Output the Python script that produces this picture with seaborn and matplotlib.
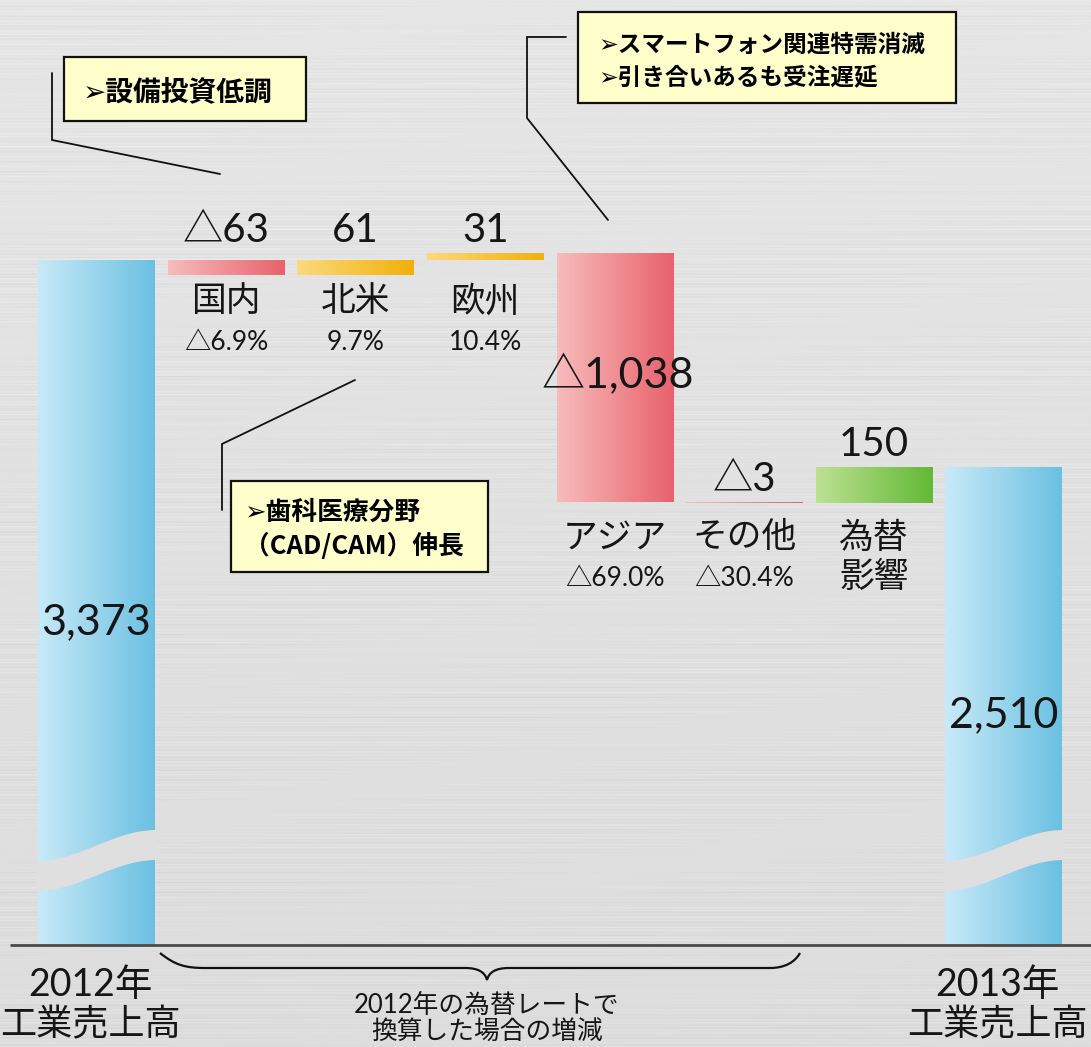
import numpy as np
import pandas as pd
import matplotlib
matplotlib.use("Agg")
import matplotlib.pyplot as plt
import seaborn as sns
from matplotlib.path import Path
from matplotlib.patches import PathPatch, Rectangle, Polygon
from matplotlib.colors import LinearSegmentedColormap

# ---------------- data ----------------
categories = ["2012年工業売上高", "国内", "北米", "欧州", "アジア", "その他", "為替影響", "2013年工業売上高"]
start_total = 3373
end_total = 2510
changes = [-63, 61, 31, -1038, -3, 150]
value_labels = ["3,373", "△63", "61", "31", "△1,038", "△3", "150", "2,510"]
bar_kinds = ["total", "neg", "pos", "pos", "neg", "neg", "fx", "total"]
region_names = ["国内", "北米", "欧州", "アジア", "その他", "為替\n影響"]
growth_labels = ["△6.9%", "9.7%", "10.4%", "△69.0%", "△30.4%", ""]
total_names = ["2012年\n工業売上高", "2013年\n工業売上高"]
brace_text = ["2012年の為替レートで", "換算した場合の増減"]
note_domestic = ["➢設備投資低調"]
note_asia = ["➢スマートフォン関連特需消滅", "➢引き合いあるも受注遅延"]
note_na = ["➢歯科医療分野", "（CAD/CAM）伸長"]

# ---------------- style ----------------
sns.set_theme(style="white")
CJK = ['Noto Sans CJK JP', 'DejaVu Sans']
NUM = ['Lato', 'Noto Sans CJK JP', 'DejaVu Sans']
plt.rcParams['font.family'] = CJK
TXT = '#161616'

grad_colors = {
    "total": ['#c8eaf8', '#6bc0e2'],
    "neg":   ['#f7bcbc', '#e8626b'],
    "pos":   ['#fdd97f', '#f1b00a'],
    "fx":    ['#bde192', '#62b936'],
}
cmaps = {k: LinearSegmentedColormap.from_list(k, v) for k, v in grad_colors.items()}

W, H = 1091, 1047
fig = plt.figure(figsize=(W / 100, H / 100), dpi=100)
ax = fig.add_axes([0, 0, 1, 1])

# layout mapping (pixels -> data)
SLOT, X0 = 129.6, 96.5
V_AT_TOP, PX_PER_UNIT = 4455.0, 0.24
def px2x(px):
    return (np.asarray(px, dtype=float) - X0) / SLOT
def px2v(py):
    return V_AT_TOP - np.asarray(py, dtype=float) / PX_PER_UNIT
def v2px(v):
    return (V_AT_TOP - v) * PX_PER_UNIT
XL = (float(px2x(0)), float(px2x(W)))
YL = (float(px2v(H)), float(px2v(0)))
FLOOR = float(px2v(945))

# waterfall geometry from data
bottoms, tops = [FLOOR], [start_total]
run = start_total
for c in changes:
    nxt = run + c
    bottoms.append(min(run, nxt)); tops.append(max(run, nxt))
    run = nxt
bottoms.append(FLOOR); tops.append(end_total)

df = pd.DataFrame({"category": categories, "top": tops, "bottom": bottoms, "kind": bar_kinds})

# background (brushed metal look)
rows = np.arange(H)
cols = np.linspace(0, 1, 300)
base = 0.90 - 0.035 * (rows / H)
streak = 0.016 * np.sin(rows * 1.9) + 0.010 * np.sin(rows * 0.61 + 0.7) + 0.007 * np.sin(rows * 3.7 + 2.1)
mod = 0.6 + 0.4 * np.sin(cols[None, :] * 9 + rows[:, None] * 0.05)
bg = base[:, None] + streak[:, None] * mod
ax.imshow(bg, cmap='gray', vmin=0, vmax=1, extent=(XL[0], XL[1], YL[0], YL[1]),
          aspect='auto', origin='upper', zorder=0, interpolation='bilinear')

# bars via seaborn
sns.barplot(data=df, x="category", y="top", hue="category", order=categories,
            hue_order=categories, palette=['#888888'] * len(categories),
            width=0.9, legend=False, ax=ax, saturation=1)
bars = sorted([p for p in ax.patches if isinstance(p, Rectangle)], key=lambda p: p.get_x())[:len(categories)]
grad = np.linspace(0, 1, 256)[None, :]
for p, b, t, kind in zip(bars, df["bottom"], df["top"], df["kind"]):
    p.set_y(b); p.set_height(t - b)
    p.set_facecolor('none'); p.set_edgecolor('none'); p.set_zorder(2)
    x0, x1 = p.get_x(), p.get_x() + p.get_width()
    im = ax.imshow(grad, cmap=cmaps[kind], extent=(x0, x1, b, t), aspect='auto',
                   origin='lower', zorder=2.5, interpolation='bilinear')
    im.set_clip_path(p)

centers = [p.get_x() + p.get_width() / 2 for p in bars]

# axis-break waves on total bars
def wave(p, yl, yr, thick):
    xpl = X0 + p.get_x() * SLOT - 2
    xpr = X0 + (p.get_x() + p.get_width()) * SLOT + 2
    t = np.linspace(0, 1, 80)
    xs = xpl + (xpr - xpl) * t
    yc = yl + (yr - yl) * (0.5 - 0.5 * np.cos(np.pi * t))
    up, lo = yc - thick / 2, yc + thick / 2
    pts = np.column_stack([np.r_[px2x(xs), px2x(xs[::-1])], np.r_[px2v(up), px2v(lo[::-1])]])
    ax.add_patch(Polygon(pts, closed=True, facecolor='#dfdfdf', edgecolor='none', zorder=3))

for i, k in enumerate(bar_kinds):
    if k == "total":
        wave(bars[i], 876, 845, 30)

# baseline
ax.plot(px2x([10, W]), [FLOOR, FLOOR], color='#4a4a4a', lw=2.0, zorder=4, solid_capstyle='butt')

# value labels
group_top = max(tops[1:4])
for i in range(1, len(categories) - 1):
    hpx = (tops[i] - bottoms[i]) * PX_PER_UNIT
    if hpx > 100:
        ax.text(centers[i] + 0.02, px2v(375), value_labels[i], ha='center', va='center',
                fontsize=31, color=TXT, family=NUM, zorder=5)
    else:
        top = group_top if i <= 3 else tops[i]
        ax.text(centers[i], px2v(v2px(top) - 11), value_labels[i], ha='center', va='baseline',
                fontsize=29, color=TXT, family=NUM, zorder=5)

# region names and growth rates
for j, (nm, gr) in enumerate(zip(region_names, growth_labels)):
    i = j + 1
    row = 302 if i <= 3 else 538
    lines = nm.split("\n")
    for k, ln in enumerate(lines):
        ax.text(centers[i], px2v(row + 40 * k), ln, ha='center', va='center', fontsize=25, color=TXT, zorder=5)
    if gr:
        ax.text(centers[i], px2v(row + 40), gr, ha='center', va='center', fontsize=19, color=TXT,
                family=NUM, zorder=5)

# totals
total_idx = [i for i, k in enumerate(bar_kinds) if k == "total"]
total_label_rows = [622, 715]
for n, i in enumerate(total_idx):
    ax.text(centers[i], px2v(total_label_rows[n]), value_labels[i], ha='center', va='center',
            fontsize=31, color=TXT, family=NUM, zorder=5)
    l1, l2 = total_names[n].split("\n")
    ax.text(centers[i] - 0.05, px2v(985), l1, ha='center', va='center', fontsize=27, color=TXT,
            family=NUM, zorder=5)
    ax.text(centers[i] - 0.05, px2v(1025), l2, ha='center', va='center', fontsize=26, color=TXT,
            family=CJK, zorder=5)

# brace under the changes
verts_px = [(160, 953), (175, 965), (185, 968), (205, 968),
            (465, 968),
            (478, 968), (485, 972), (487, 980),
            (489, 972), (496, 968), (509, 968),
            (770, 968),
            (785, 968), (795, 962), (800, 953)]
codes = [Path.MOVETO, Path.CURVE4, Path.CURVE4, Path.CURVE4,
         Path.LINETO,
         Path.CURVE4, Path.CURVE4, Path.CURVE4,
         Path.CURVE4, Path.CURVE4, Path.CURVE4,
         Path.LINETO,
         Path.CURVE4, Path.CURVE4, Path.CURVE4]
verts = [(float(px2x(x)), float(px2v(y))) for x, y in verts_px]
ax.add_patch(PathPatch(Path(verts, codes), facecolor='none', edgecolor='#111111', lw=1.6, zorder=5))
ax.text(px2x(487), px2v(1005), brace_text[0], ha='center', va='center', fontsize=18.5, color=TXT,
        family=NUM, zorder=5)
ax.text(px2x(487), px2v(1033), brace_text[1], ha='center', va='center', fontsize=18.5, color=TXT, zorder=5)

# callout notes
def note(box, lines, tx, ys, fs, leader):
    (bx0, by0, bx1, by1) = box
    lx, ly = zip(*leader)
    ax.plot(px2x(lx), px2v(ly), color='#111111', lw=1.3, zorder=6, solid_joinstyle='miter')
    ax.add_patch(Rectangle((float(px2x(bx0)), float(px2v(by1))),
                           float(px2x(bx1) - px2x(bx0)), float(px2v(by0) - px2v(by1)),
                           facecolor='#ffffcc', edgecolor='#111111', lw=1.6, zorder=6))
    for ln, y in zip(lines, ys):
        ax.text(px2x(tx), px2v(y), ln, ha='left', va='center', fontsize=fs, fontweight='bold',
                color='#000000', zorder=7)

note((64, 57, 306, 121), note_domestic, 83, [92], 20, [(52, 73), (52, 140), (220, 174)])
note((578, 12, 956, 103), note_asia, 598, [45, 77], 17, [(566, 37), (527, 37), (527, 118), (608, 220)])
note((231, 481, 488, 572), note_na, 244, [512, 546], 18.5, [(355, 380), (222, 444), (222, 510)])

ax.set_xlim(*XL)
ax.set_ylim(*YL)
ax.axis('off')
fig.savefig("out.png", dpi=100)
